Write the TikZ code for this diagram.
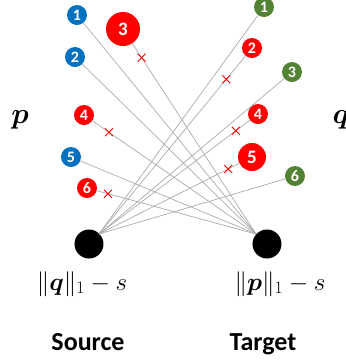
\documentclass[tikz,border=0pt]{standalone}
\usepackage{fix-cm}
\usepackage{amsmath}
\usepackage{fontspec}
\usepackage{bm}
\newfontfamily\labelfont{Carlito}
\usetikzlibrary{shapes.misc,calc}

\definecolor{pblue}{HTML}{0070C0}
\definecolor{pred}{HTML}{FF0000}
\definecolor{pgreen}{HTML}{548235}
\definecolor{linkgray}{HTML}{ABABAB}

\begin{document}
\begin{tikzpicture}[x=1pt,y=-1pt,
  num/.style={circle, inner sep=0pt, minimum size=20pt, text=white,
    font=\labelfont\bfseries\fontsize{16}{16}\selectfont},
  bignum/.style={num, font=\labelfont\bfseries\fontsize{19}{19}\selectfont},
  blueball/.style={num, fill=pblue},
  redball/.style={num, fill=pred},
  greenball/.style={num, fill=pgreen},
  dot/.style={circle, fill=black, inner sep=0pt, minimum size=29pt},
  link/.style={draw=linkgray, line width=0.7pt},
  xmark/.style={cross out, draw=pred, line width=0.9pt, inner sep=0pt, minimum size=7pt},
  caption/.style={font=\labelfont\bfseries\fontsize{26}{26}\selectfont, anchor=base},
  formula/.style={font=\fontsize{25}{25}\selectfont, anchor=base},
  vec/.style={font=\fontsize{29}{29}\selectfont, anchor=base}
]
\useasboundingbox (0,0) rectangle (346,360);

% terminal vertices
\node[dot] (src) at (89,244) {};
\node[dot] (tgt) at (267,244) {};
\coordinate (sc) at (99,234);
\coordinate (tc) at (256,234);

% entries of p (left)
\node[blueball] (L1) at (77,15) {1};
\node[blueball] (L2) at (75,57) {2};
\node[redball, bignum, minimum size=34pt] (L3) at (123,29) {3};
\node[redball] (L4) at (84,115) {4};
\node[blueball] (L5) at (71,157) {5};
\node[redball] (L6) at (87,188) {6};

% entries of q (right)
\node[greenball] (R1) at (264,7) {1};
\node[redball] (R2) at (252,48) {2};
\node[greenball] (R3) at (292,72) {3};
\node[redball] (R4) at (258,114) {4};
\node[redball, bignum, minimum size=28pt] (R5) at (252,157) {5};
\node[greenball] (R6) at (295,176) {6};

% edges
\foreach \n in {L1,L2,L3,L4,L5,L6} \draw[link] (\n) -- (tc);
\foreach \n in {R1,R2,R3,R4,R5,R6} \draw[link] (\n) -- (sc);

% removed edges
\node[xmark] (x3) at ($(L3)!0.14!(tc)$) {};
\node[xmark] (x4) at ($(L4)!0.145!(tc)$) {};
\node[xmark] (x6) at ($(L6)!0.124!(tc)$) {};
\node[xmark] (y2) at ($(R2)!0.168!(sc)$) {};
\node[xmark] (y4) at ($(R4)!0.14!(sc)$) {};
\node[xmark] (y5) at ($(R5)!0.155!(sc)$) {};

% labels
\node[vec] (p) at (20,123) {$\bm{p}$};
\node[vec] (q) at (341,123) {$\bm{q}$};
\node[formula] (fs) at (82,290) {$\|\bm{q}\|_1 - s$};
\node[formula] (ft) at (280,290) {$\|\bm{p}\|_1 - s$};
\node[caption] (cs) at (88,350) {Source};
\node[caption] (ct) at (263,350) {Target};
\end{tikzpicture}
\end{document}
